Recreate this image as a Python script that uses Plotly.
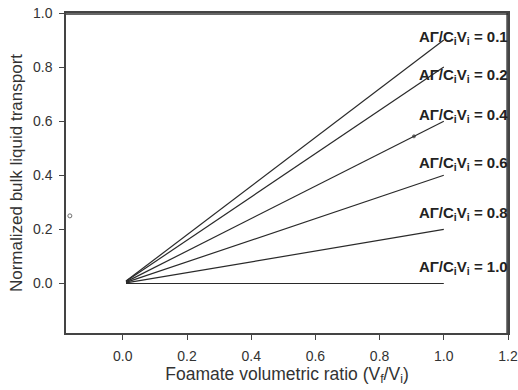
import plotly.graph_objects as go

ratios = [0.1, 0.2, 0.4, 0.6, 0.8, 1.0]
x_start = 0.01
x_end = 1.0
label_y = [0.911, 0.770, 0.622, 0.444, 0.259, 0.059]
artifact_x = [-0.165, 0.907]
artifact_y = [0.25, 0.544]
x_ticks = [0.0, 0.2, 0.4, 0.6, 0.8, 1.0, 1.2]
y_ticks = [0.0, 0.2, 0.4, 0.6, 0.8, 1.0]

FONT = "Arial, Liberation Sans, sans-serif"

fig = go.Figure()
for r in ratios:
    fig.add_trace(go.Scatter(
        x=[x_start, x_end], y=[(1 - r) * x_start, (1 - r) * x_end],
        mode="lines", line=dict(color="#2a2a2a", width=1.2),
        showlegend=False, hoverinfo="skip"))

fig.add_trace(go.Scatter(
    x=artifact_x, y=artifact_y, mode="markers",
    marker=dict(size=[4, 3], color=["white", "#333"], symbol="circle",
                line=dict(color="#333", width=1)),
    showlegend=False, hoverinfo="skip", cliponaxis=False))

for r, ly in zip(ratios, label_y):
    fig.add_annotation(
        x=1.005, y=ly, xref="paper", yref="y", xanchor="right", yanchor="middle",
        text="<b>AΓ/C<sub>i</sub>V<sub>i</sub> = %.1f</b>" % r,
        showarrow=False, font=dict(family=FONT, size=15, color="#222"))

# top and right sides of the frame, drawn slightly inside the plot edge
fig.add_shape(type="line", xref="paper", yref="paper", x0=0, x1=1, y0=0.997, y1=0.997,
              line=dict(color="#333", width=1.5), layer="above")
fig.add_shape(type="line", xref="paper", yref="paper", x0=0.998, x1=0.998, y0=0, y1=1,
              line=dict(color="#333", width=1.5), layer="above")

axis_common = dict(
    showline=True, linecolor="#444", linewidth=1.5, mirror=True,
    ticks="outside", ticklen=5, tickcolor="#444", tickwidth=1,
    showgrid=False, zeroline=False, ticklabelstandoff=4, automargin=False,
    tickfont=dict(family=FONT, size=14, color="#333"),
)

fig.update_layout(
    width=518, height=390, autosize=False,
    margin=dict(l=66, r=10, t=13, b=57),
    paper_bgcolor="white", plot_bgcolor="white",
    modebar=dict(bgcolor="rgba(0,0,0,0)", color="rgba(0,0,0,0)",
                 activecolor="rgba(0,0,0,0)"),
    xaxis=dict(range=[-0.177, 1.2], tickvals=x_ticks, tickformat=".1f",
               title=dict(text="Foamate volumetric ratio (V<sub>f</sub>/V<sub>i</sub>)",
                          font=dict(family=FONT, size=17.5, color="#333"),
                          standoff=5),
               **axis_common),
    yaxis=dict(range=[-0.183, 1.0], tickvals=y_ticks, tickformat=".1f",
               title=dict(text="Normalized bulk liquid transport",
                          font=dict(family=FONT, size=17, color="#333"),
                          standoff=6),
               **axis_common),
)

post = (
    "document.documentElement.style.margin='0';"
    "document.documentElement.style.overflow='hidden';"
    "document.body.style.margin='0';"
    "document.body.style.overflow='hidden';"
)

fig.write_html("out.html", config={"responsive": False, "displaylogo": False},
               post_script=post)
